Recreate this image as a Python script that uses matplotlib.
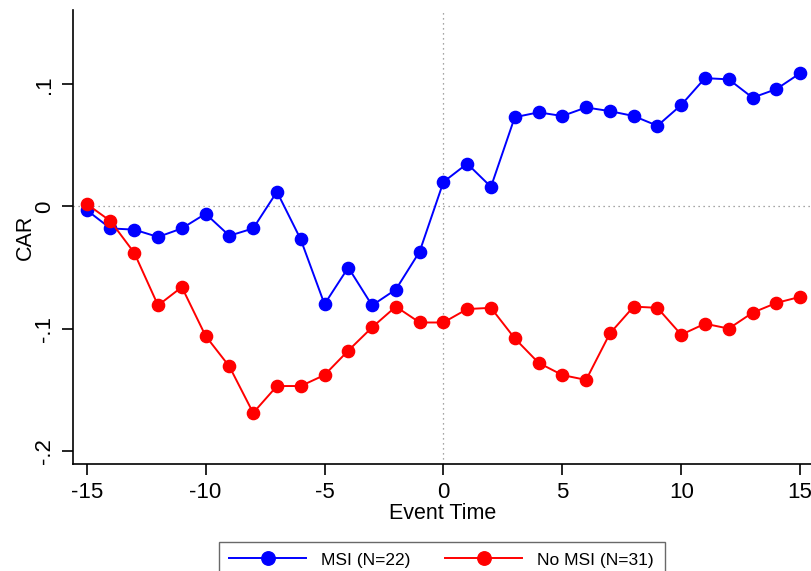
import matplotlib.pyplot as plt
import numpy as np

plt.rcParams['font.family'] = ['Liberation Sans', 'DejaVu Sans']

# event window and cumulative abnormal returns
event_time = np.arange(-15, 16)
car_msi = [-0.003, -0.018, -0.019, -0.025, -0.018, -0.006, -0.024, -0.018, 0.012, -0.027,
           -0.080, -0.050, -0.081, -0.068, -0.037, 0.020, 0.035, 0.016, 0.073, 0.077,
           0.074, 0.081, 0.078, 0.074, 0.066, 0.083, 0.105, 0.104, 0.089, 0.096, 0.109]
car_no_msi = [0.002, -0.012, -0.038, -0.081, -0.066, -0.106, -0.131, -0.169, -0.147, -0.147,
              -0.138, -0.118, -0.099, -0.082, -0.095, -0.095, -0.084, -0.083, -0.108, -0.128,
              -0.138, -0.142, -0.104, -0.082, -0.083, -0.105, -0.096, -0.100, -0.087, -0.079, -0.074]

xticks = [-15, -10, -5, 0, 5, 10, 15]
yticks = [-0.2, -0.1, 0, 0.1]
ytick_labels = ['-.2', '-.1', '0', '.1']

fig = plt.figure(figsize=(8.12, 5.71), dpi=100)
ax = fig.add_axes([0.0895, 0.187, 0.9105, 0.796])

ax.axhline(0, color='#888888', lw=0.9, ls=(0, (1, 3)), zorder=1)
ax.axvline(0, color='#888888', lw=0.9, ls=(0, (1, 3)), zorder=1)

ax.plot(event_time, car_msi, color='#0000ff', marker='o', ms=8.8, lw=1.4,
        label='MSI (N=22)', zorder=3)
ax.plot(event_time, car_no_msi, color='#ff0000', marker='o', ms=8.8, lw=1.4,
        label='No MSI (N=31)', zorder=3)

ax.set_xlim(-15.59, 15.5)
ax.set_ylim(-0.211, 0.161)
ax.set_xticks(xticks)
ax.set_xticklabels([str(t) for t in xticks])
ax.set_yticks(yticks)
ax.set_yticklabels(ytick_labels, rotation=90, va='center')

for side in ['top', 'right']:
    ax.spines[side].set_visible(False)
for side in ['left', 'bottom']:
    ax.spines[side].set_linewidth(1.2)
ax.tick_params(axis='both', length=8, width=1.2, labelsize=16)
ax.tick_params(axis='x', pad=5)
ax.tick_params(axis='y', pad=4.5)

ax.set_xlabel('Event Time', fontsize=15.5, labelpad=0)
ax.set_ylabel('CAR', fontsize=15.5, labelpad=-1)

leg = fig.legend(loc='upper center', bbox_to_anchor=(0.544, 0.066), ncol=2,
                 fontsize=12.5, frameon=True, fancybox=False, handlelength=4.4,
                 columnspacing=2.0, handletextpad=0.9, borderpad=0.6,
                 markerscale=1.1)
leg.get_frame().set_edgecolor('#444444')
leg.get_frame().set_linewidth(1.0)

fig.savefig('out.png', dpi=100)
